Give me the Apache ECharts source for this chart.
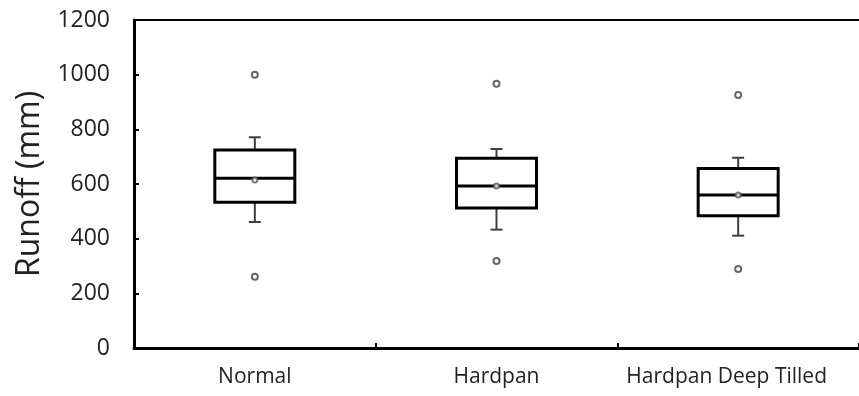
<!DOCTYPE html>
<html>
<head>
<meta charset="utf-8">
<script src="https://cdn.jsdelivr.net/npm/echarts@6/dist/echarts.min.js"></script>
<style>
  html, body { margin: 0; padding: 0; background: #fff; }
  #chart { width: 859px; height: 396px; }
</style>
</head>
<body>
<div id="chart"></div>
<script>
// Runoff summary per soil treatment
const categories = ['Normal', 'Hardpan', 'Hardpan Deep Tilled'];
const whiskerLow  = [461, 433, 411];
const quartile1   = [533, 512, 484];
const medians     = [621, 593, 560];
const quartile3   = [724, 694, 657];
const whiskerHigh = [771, 728, 696];
const means       = [615, 593, 560];
const outliersHigh = [1000, 967, 926];
const outliersLow  = [261, 318, 289];
const yTicks = { min: 0, max: 1200, interval: 200 };

const FONT = '"Open Sans", "Noto Sans", sans-serif';

const boxData = categories.map((c, i) => [i, whiskerLow[i], quartile1[i], medians[i], quartile3[i], whiskerHigh[i]]);
const meanData = categories.map((c, i) => [i, means[i]]);
const outlierData = [];
categories.forEach((c, i) => {
  outlierData.push([i, outliersHigh[i]]);
  outlierData.push([i, outliersLow[i]]);
});

const BOX_W = 80;
const CAP_W = 12;

function renderBox(params, api) {
  const x = api.value(0);
  const pLow = api.coord([x, api.value(1)]);
  const pQ1 = api.coord([x, api.value(2)]);
  const pMed = api.coord([x, api.value(3)]);
  const pQ3 = api.coord([x, api.value(4)]);
  const pHigh = api.coord([x, api.value(5)]);
  const cx = pMed[0];
  const whiskerStyle = { stroke: '#404040', lineWidth: 2 };
  const boxStyle = { stroke: '#000', lineWidth: 3 };
  return {
    type: 'group',
    children: [
      { type: 'line', shape: { x1: cx, y1: pQ3[1], x2: cx, y2: pHigh[1] }, style: whiskerStyle },
      { type: 'line', shape: { x1: cx - CAP_W / 2, y1: pHigh[1], x2: cx + CAP_W / 2, y2: pHigh[1] }, style: whiskerStyle },
      { type: 'line', shape: { x1: cx, y1: pQ1[1], x2: cx, y2: pLow[1] }, style: whiskerStyle },
      { type: 'line', shape: { x1: cx - CAP_W / 2, y1: pLow[1], x2: cx + CAP_W / 2, y2: pLow[1] }, style: whiskerStyle },
      { type: 'rect', shape: { x: cx - BOX_W / 2, y: pQ3[1], width: BOX_W, height: pQ1[1] - pQ3[1] },
        style: { fill: '#fff', stroke: '#000', lineWidth: 3 } },
      { type: 'line', shape: { x1: cx - BOX_W / 2, y1: pMed[1], x2: cx + BOX_W / 2, y2: pMed[1] }, style: boxStyle }
    ]
  };
}

const lastIndex = categories.length - 1;

const chart = echarts.init(document.getElementById('chart'), null, { renderer: 'canvas' });
chart.setOption({
  animation: false,
  backgroundColor: '#fff',
  grid: { left: 134, right: -6, top: 20, bottom: 48 },
  xAxis: [
    {
      type: 'category',
      data: categories,
      boundaryGap: true,
      axisLine: { lineStyle: { color: '#000', width: 3 } },
      axisTick: { show: true, inside: true, length: 5, interval: 0, lineStyle: { color: '#000', width: 2 } },
      axisLabel: {
        color: '#222', fontFamily: FONT, fontSize: 21, margin: 19, interval: 0, hideOverlap: false,
        // the last label is nudged left so it stays clear of the right edge
        formatter: (v, i) => i === lastIndex ? '{edge|' + v + '}' : v,
        rich: { edge: { color: '#222', fontFamily: FONT, fontSize: 21, padding: [0, 23, 0, 0] } }
      },
      splitLine: { show: false }
    },
    {
      // plain frame line along the top of the plot area
      type: 'category',
      data: categories,
      position: 'top',
      axisLine: { lineStyle: { color: '#000', width: 2 } },
      axisTick: { show: false },
      axisLabel: { show: false },
      splitLine: { show: false }
    }
  ],
  yAxis: {
    type: 'value',
    min: yTicks.min, max: yTicks.max, interval: yTicks.interval,
    name: 'Runoff (mm)',
    nameLocation: 'middle',
    nameGap: 88,
    nameTextStyle: { color: '#222', fontFamily: FONT, fontSize: 32 },
    axisLine: { show: true, lineStyle: { color: '#000', width: 3 } },
    axisTick: { show: true, inside: true, length: 5, lineStyle: { color: '#000', width: 2 } },
    axisLabel: { color: '#222', fontFamily: FONT, fontSize: 23, margin: 24, formatter: v => String(v) },
    splitLine: { show: false }
  },
  series: [
    {
      type: 'custom',
      renderItem: renderBox,
      data: boxData,
      encode: { x: 0, y: [1, 2, 3, 4, 5] },
      z: 2
    },
    {
      type: 'scatter',
      data: meanData,
      symbol: 'emptyCircle',
      symbolSize: 5,
      itemStyle: { color: '#595959', borderWidth: 1.5 },
      z: 3
    },
    {
      type: 'scatter',
      data: outlierData,
      symbol: 'emptyCircle',
      symbolSize: 6,
      itemStyle: { color: '#404040', borderWidth: 1.5 },
      z: 3
    }
  ]
});
</script>
</body>
</html>
